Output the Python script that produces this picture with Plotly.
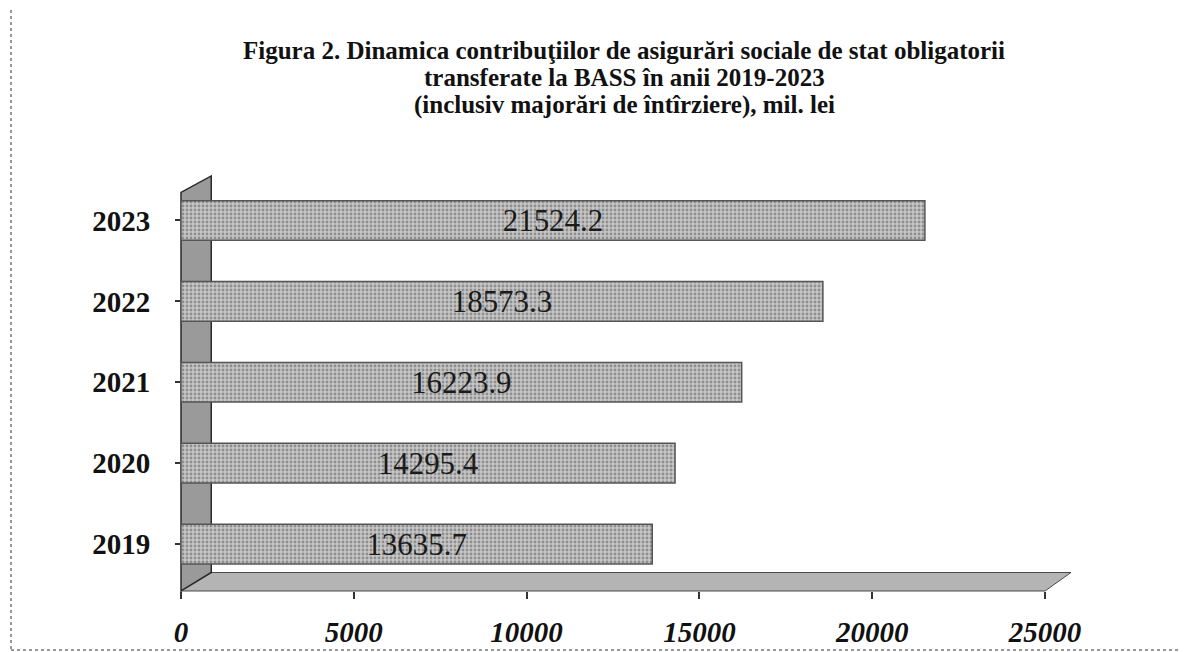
import plotly.graph_objects as go

years = ["2019", "2020", "2021", "2022", "2023"]
values = [13635.7, 14295.4, 16223.9, 18573.3, 21524.2]
x_ticks = [0, 5000, 10000, 15000, 20000, 25000]
title_lines = [
    "Figura 2. Dinamica contribuţiilor de asigurări sociale de stat obligatorii",
    "transferate la BASS în anii 2019-2023",
    "(inclusiv majorări de întîrziere), mil. lei",
]

serif = "Liberation Serif, Times New Roman, serif"

W, H = 1189, 652
L, R, T, B = 173, 152, 172, 62
ph = H - T - B

fig = go.Figure()
fig.add_trace(go.Bar(
    y=list(range(len(years))), x=values, orientation="h",
    text=[f"{v:.1f}" for v in values],
    textposition="inside", insidetextanchor="middle",
    textfont=dict(family=serif, size=34, color="#1a1a1a"),
    marker=dict(
        color="#bdbdbd",
        line=dict(color="#555555", width=1.5),
        pattern=dict(shape=".", fgcolor="#555555", bgcolor="#c6c6c6", size=4, solidity=0.4),
    ),
    cliponaxis=False,
    width=0.49,
))

shapes = [
    # floor (3D base)
    dict(type="path", xref="x domain", yref="y domain",
         path="M 0,0 L 1,0 L 1.03,0.045 L 0.03,0.045 Z",
         fillcolor="#b4b4b4", line=dict(color="#4a4a4a", width=1), layer="below"),
    # left back wall
    dict(type="path", xref="x domain", yref="y domain",
         path="M 0,0 L 0,0.97 L 0.035,1.01 L 0.035,0.045 Z",
         fillcolor="#9a9a9a", line=dict(color="#2a2a2a", width=1.5), layer="below"),
    # dotted frame
    dict(type="rect", xref="paper", yref="paper", xsizemode="pixel", ysizemode="pixel",
         xanchor=0, yanchor=0, x0=3 - L, x1=W - 3 - L, y0=-(H - 3 - (H - B)), y1=(H - B) - 3,
         line=dict(color="#777777", width=1.5, dash="dot")),
]

# title lines as annotations at pixel positions (centre of each text line)
title_y_px = [40, 68, 96]
title_x_px = 616
annotations = []
for line, ypx in zip(title_lines, title_y_px):
    annotations.append(dict(
        text=line, showarrow=False,
        xref="paper", yref="paper",
        x=(title_x_px - L) / (W - L - R), y=(H - B - ypx) / ph,
        xanchor="center", yanchor="middle",
        font=dict(family=serif, size=25, color="#111111", weight="bold"),
    ))

fig.update_layout(
    width=W, height=H,
    paper_bgcolor="white", plot_bgcolor="white",
    margin=dict(l=L, r=R, t=T, b=B),
    showlegend=False,
    xaxis=dict(
        range=[0, 25000], tickvals=x_ticks, ticktext=[str(t) for t in x_ticks],
        showgrid=False, zeroline=False, showline=False,
        ticks="outside", ticklen=7, tickwidth=2, tickcolor="#333333",
        ticklabelstandoff=8,
        tickfont=dict(family=serif, size=29, color="#111111", weight="bold", style="italic"),
    ),
    yaxis=dict(
        range=[-0.58, 4.5],
        tickvals=list(range(len(years))), ticktext=years,
        showgrid=False, zeroline=False, showline=False,
        ticks="outside", ticklen=5, tickwidth=2, tickcolor="#333333",
        tickfont=dict(family=serif, size=29, color="#111111", weight="bold"),
        ticklabelstandoff=19,
    ),
    shapes=shapes,
    annotations=annotations,
)

fig.write_html("out.html")
